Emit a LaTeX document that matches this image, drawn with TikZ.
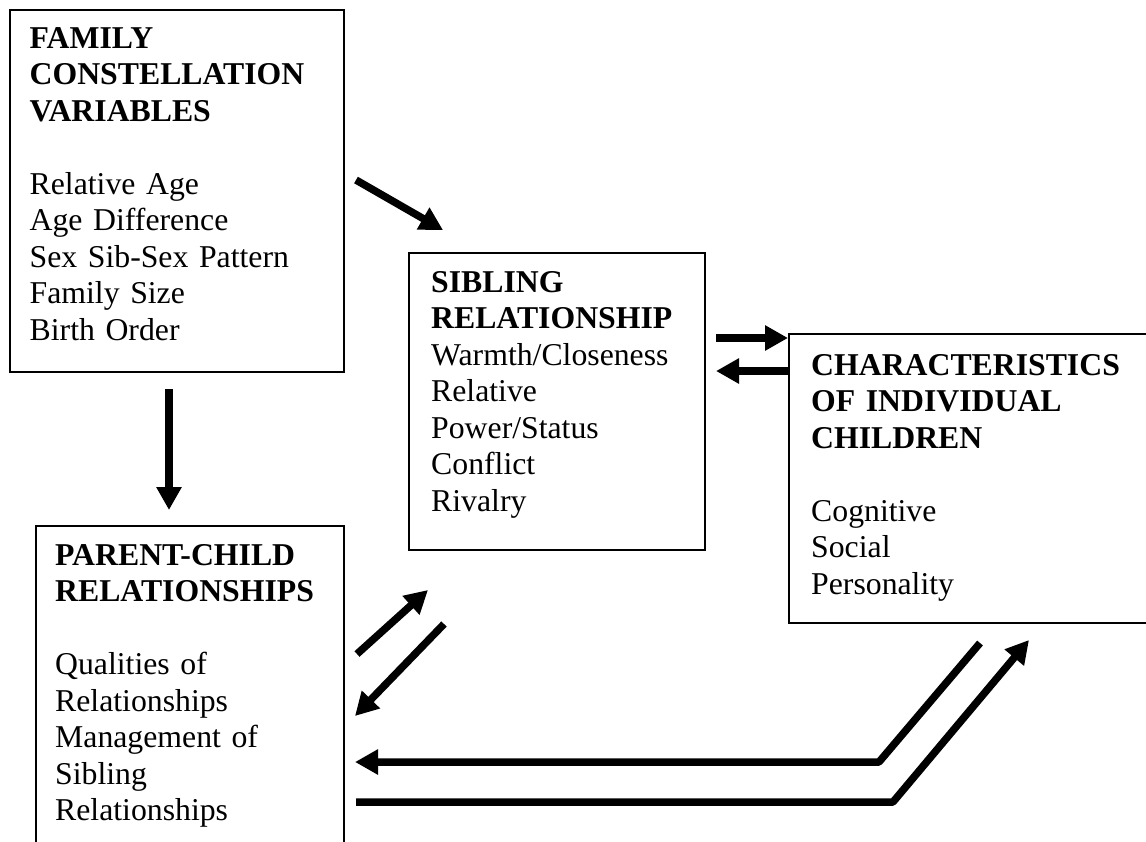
\documentclass[tikz,border=0pt]{standalone}
\usepackage{fontspec}
\setmainfont{Liberation Serif}
\usetikzlibrary{arrows.meta}
\begin{document}
\begin{tikzpicture}[x=1pt,y=-1pt,
  box/.style={draw, line width=1.8pt, inner sep=0pt, anchor=north west},
  txt/.style={anchor=base west, inner sep=0pt, text width=360pt, align=left,
    font=\fontsize{31.75pt}{36.5pt}\selectfont},
  fatarrow/.style={line width=7.5pt, line join=bevel, -{Triangle[length=23pt,width=24pt]}},
  fatline/.style={line width=7.5pt, line join=bevel}]
\useasboundingbox (0,0) rectangle (1146,841);
\clip (0,0) rectangle (1146,841);
\fill[white] (0,0) rectangle (1146,841);

% boxes
\node[box, minimum width=334pt, minimum height=362pt] (fam) at (9,9) {};
\node[box, minimum width=308pt, minimum height=345pt] (par) at (35,525) {};
\node[box, minimum width=296pt, minimum height=297pt] (sib) at (408,252) {};
\node[box, minimum width=385pt, minimum height=289pt] (chr) at (788,333) {};

% texts
\node[txt] (famtxt) at (29.5,48) {\textbf{FAMILY}\\\textbf{CONSTELLATION}\\\textbf{VARIABLES}\\[36.5pt]Relative Age\\Age Difference\\Sex Sib-Sex Pattern\\Family Size\\Birth Order};
\node[txt] (partxt) at (55,565) {\textbf{PARENT-CHILD}\\\textbf{RELATIONSHIPS}\\[36.5pt]Qualities of\\Relationships\\Management of\\Sibling\\Relationships};
\node[txt] (sibtxt) at (431,292) {\textbf{SIBLING}\\\textbf{RELATIONSHIP}\\Warmth/Closeness\\Relative\\Power/Status\\Conflict\\Rivalry};
\node[txt] (chrtxt) at (811,375) {\textbf{CHARACTERISTICS}\\\textbf{OF INDIVIDUAL}\\\textbf{CHILDREN}\\[36.5pt]Cognitive\\Social\\Personality};

% arrow end points
\coordinate (f2s-a) at (356,180);
\coordinate (f2s-b) at (443,230);
\coordinate (f2p-a) at (169,389);
\coordinate (f2p-b) at (169,510);
\coordinate (s2c-a) at (716,338);
\coordinate (s2c-b) at (788,338);
\coordinate (c2s-a) at (788,371);
\coordinate (c2s-b) at (716,371);
\coordinate (p2s-a) at (357,654);
\coordinate (p2s-b) at (428,590);
\coordinate (s2p-a) at (444,624);
\coordinate (s2p-b) at (355,716);
\coordinate (c2p-a) at (980,643);
\coordinate (c2p-k) at (879,762);
\coordinate (c2p-b) at (355,762);
\coordinate (p2c-a) at (356,802);
\coordinate (p2c-k) at (893,802);
\coordinate (p2c-b) at (1029,640);

% connectors
\draw[fatarrow] (f2s-a) -- (f2s-b);
\draw[fatarrow] (f2p-a) -- (f2p-b);
\draw[fatarrow] (s2c-a) -- (s2c-b);
\draw[fatarrow] (c2s-a) -- (c2s-b);
\draw[fatarrow] (p2s-a) -- (p2s-b);
\draw[fatarrow] (s2p-a) -- (s2p-b);
\draw[fatarrow] (c2p-a) -- (c2p-k) -- (c2p-b);
\draw[fatarrow] (p2c-a) -- (p2c-k) -- (p2c-b);
\end{tikzpicture}
\end{document}
